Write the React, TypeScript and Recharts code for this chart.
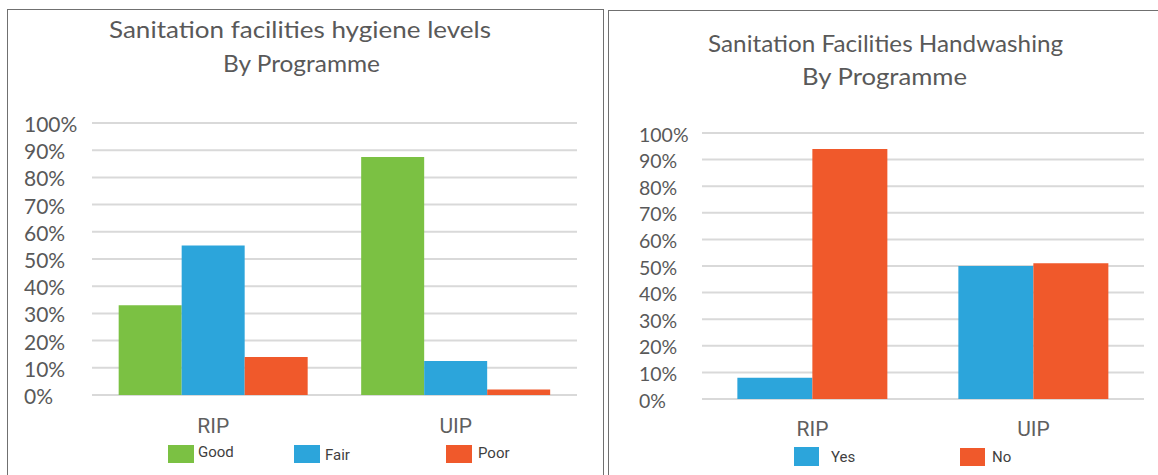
import React from 'react';
import { BarChart, Bar, XAxis, YAxis, CartesianGrid } from 'recharts';

const programmes = ['RIP', 'UIP'];
const hygieneGood = [33, 87.5];
const hygieneFair = [55, 12.5];
const hygienePoor = [14, 2];
const handwashYes = [8, 50];
const handwashNo = [94, 51];
const percentTicks = [0, 10, 20, 30, 40, 50, 60, 70, 80, 90, 100];

const GREEN = '#7BC143';
const BLUE = '#2CA5DB';
const ORANGE = '#F0592B';
const GRID = '#D9D9D9';
const LABEL = '#595959';
const TITLE_FONT = 'Lato, "Open Sans", sans-serif';
const AXIS_FONT = 'Roboto, "Noto Sans", sans-serif';

const hygieneData = programmes.map((p, i) => ({
  programme: p,
  Good: hygieneGood[i],
  Fair: hygieneFair[i],
  Poor: hygienePoor[i],
}));
const handwashData = programmes.map((p, i) => ({
  programme: p,
  Yes: handwashYes[i],
  No: handwashNo[i],
}));

const makeYTick = (labelX: number, fontSize: number) => (props: any) => {
  const { y, payload } = props;
  return (
    <text
      x={labelX}
      y={y}
      dy={fontSize * 0.36 + 1.5}
      textAnchor="start"
      fontSize={fontSize}
      fontFamily={TITLE_FONT}
      fill={LABEL}
    >
      {`${payload.value}%`}
    </text>
  );
};

const makeXTick = (dy: number) => (props: any) => {
  const { x, y, payload } = props;
  return (
    <text x={x} y={y} dy={dy} textAnchor="middle" fontSize={21} fontFamily={AXIS_FONT} fill="#5f5f5f">
      {payload.value}
    </text>
  );
};

const Swatch = ({ left, top, color, w, h }: any) => (
  <div style={{ position: 'absolute', left, top, width: w, height: h, background: color }} />
);
const LegendText = ({ left, top, text }: any) => (
  <div
    style={{
      position: 'absolute',
      left,
      top,
      fontFamily: AXIS_FONT,
      fontSize: 15,
      color: '#3f3f3f',
      lineHeight: '18px',
      whiteSpace: 'nowrap',
    }}
  >
    {text}
  </div>
);

const TitleLine = ({ text, cx, baseline, width }: any) => (
  <text
    x={cx}
    y={baseline}
    textAnchor="middle"
    textLength={width}
    lengthAdjust="spacingAndGlyphs"
    fontFamily={TITLE_FONT}
    fontSize={23.5}
    fill={LABEL}
  >
    {text}
  </text>
);

export default function App() {
  return (
    <div style={{ position: 'relative', width: 1158, height: 475, overflow: 'hidden', background: '#fff' }}>
      <style>{`body{margin:0;}`}</style>
      {/* panel borders */}
      <div style={{ position: 'absolute', left: 7, top: 9, width: 595, height: 500, border: '1px solid #707070' }} />
      <div style={{ position: 'absolute', left: 608, top: 10, width: 600, height: 500, border: '1px solid #707070' }} />

      {/* Left chart */}
      <div style={{ position: 'absolute', left: 0, top: 0 }}>
        <BarChart
          width={605}
          height={475}
          data={hygieneData}
          margin={{ top: 123, right: 28, bottom: 0, left: 32 }}
          barGap={0}
          barCategoryGap="11%"
        >
          <CartesianGrid vertical={false} stroke={GRID} strokeWidth={2} />
          <XAxis
            dataKey="programme"
            axisLine={false}
            tickLine={false}
            tickSize={0}
            tickMargin={0}
            height={80}
            tick={makeXTick(38)}
            interval={0}
          />
          <YAxis
            width={60}
            domain={[0, 100]}
            ticks={percentTicks}
            axisLine={false}
            tickLine={false}
            tick={makeYTick(24, 21)}
            interval={0}
          />
          <Bar dataKey="Good" fill={GREEN} isAnimationActive={false} />
          <Bar dataKey="Fair" fill={BLUE} isAnimationActive={false} />
          <Bar dataKey="Poor" fill={ORANGE} isAnimationActive={false} />
        </BarChart>
      </div>
      <Swatch left={168} top={445} w={26} h={18} color={GREEN} />
      <LegendText left={198} top={443} text="Good" />
      <Swatch left={294} top={445} w={26} h={18} color={BLUE} />
      <LegendText left={325} top={446} text="Fair" />
      <Swatch left={446} top={445} w={26} h={18} color={ORANGE} />
      <LegendText left={478} top={444} text="Poor" />

      {/* Right chart */}
      <div style={{ position: 'absolute', left: 605, top: 0 }}>
        <BarChart
          width={553}
          height={475}
          data={handwashData}
          margin={{ top: 133, right: 14, bottom: 0, left: 37 }}
          barGap={0}
          barCategoryGap="16%"
        >
          <CartesianGrid vertical={false} stroke={GRID} strokeWidth={2} />
          <XAxis
            dataKey="programme"
            axisLine={false}
            tickLine={false}
            tickSize={0}
            tickMargin={0}
            height={76}
            tick={makeXTick(37)}
            interval={0}
          />
          <YAxis
            width={60}
            domain={[0, 100]}
            ticks={percentTicks}
            axisLine={false}
            tickLine={false}
            tick={makeYTick(34, 19.5)}
            interval={0}
          />
          <Bar dataKey="Yes" fill={BLUE} isAnimationActive={false} />
          <Bar dataKey="No" fill={ORANGE} isAnimationActive={false} />
        </BarChart>
      </div>
      <Swatch left={794} top={447} w={25} h={19} color={BLUE} />
      <LegendText left={831} top={448} text="Yes" />
      <Swatch left={960} top={448} w={25} h={18} color={ORANGE} />
      <LegendText left={992} top={448} text="No" />

      {/* Titles */}
      <svg
        width={1158}
        height={475}
        style={{ position: 'absolute', left: 0, top: 0, pointerEvents: 'none' }}
      >
        <TitleLine text="Sanitation facilities hygiene levels" cx={300} baseline={38} width={382} />
        <TitleLine text="By Programme" cx={301.5} baseline={72} width={157} />
        <TitleLine text="Sanitation Facilities Handwashing" cx={885.6} baseline={51.5} width={355} />
        <TitleLine text="By Programme" cx={884.5} baseline={85} width={165} />
      </svg>
    </div>
  );
}
